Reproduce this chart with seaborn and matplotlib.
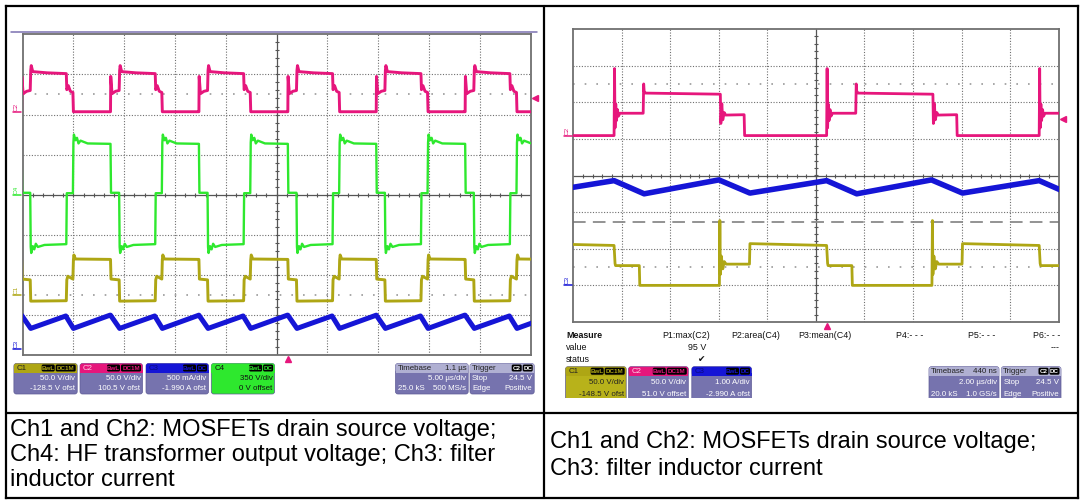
import numpy as np
import pandas as pd
import matplotlib
matplotlib.use("Agg")
import matplotlib.pyplot as plt
import seaborn as sns
from matplotlib.patches import FancyBboxPatch, Rectangle

sns.set_theme(style="white")
plt.rcParams["font.family"] = ["Liberation Sans", "DejaVu Sans"]

# ------------------------------------------------------------------
# DATA  (trace values in screen divisions)
# ------------------------------------------------------------------
# Left capture, 5.00 us/div : start of each switching cycle on screen
left_cycle_starts = [-0.02, 1.73, 3.47, 5.22, 6.96, 8.71]
# one cycle of each channel: offset inside the cycle (div) / level (div)
left_c2_t = [0.00, 0.005, 0.03, 0.10, 0.17, 0.18, 0.19, 0.22, 0.50, 0.88, 0.89, 0.92, 0.96, 1.01, 1.02, 1.74]
left_c2_v = [2.07, 2.95, 2.52, 2.58, 2.60, 3.10, 3.22, 3.07, 3.04, 3.02, 2.62, 2.72, 2.58, 2.55, 2.07, 2.07]
left_c4_t = [0.00, 0.01, 0.17, 0.18, 0.19, 0.22, 0.25, 0.28, 0.32, 0.45, 0.88, 0.89, 1.01, 1.02, 1.03,
             1.06, 1.09, 1.12, 1.16, 1.30, 1.74]
left_c4_v = [1.27, 0.05, 0.05, -1.30, -1.45, -1.28, -1.36, -1.22, -1.30, -1.25, -1.23, 0.04, 0.04, 1.30, 1.50,
             1.36, 1.42, 1.28, 1.35, 1.28, 1.27]
left_c1_t = [0.00, 0.01, 0.17, 0.18, 0.88, 0.89, 0.91, 1.01, 1.02, 1.03, 1.06, 1.74]
left_c1_v = [-1.61, -2.10, -2.12, -2.65, -2.64, -2.12, -2.03, -2.10, -1.62, -1.50, -1.60, -1.61]
left_c3_t = [0.00, 0.18, 0.87, 1.02, 1.74]
left_c3_v = [-3.00, -3.33, -3.02, -3.33, -3.00]

# Right capture, 2.00 us/div
right_cycle_starts = [-3.54, 0.84, 5.22, 9.60]
right_c2_t = [0.00, 0.01, 0.02, 0.035, 0.05, 0.07, 0.09, 0.12, 0.60, 0.61, 0.62, 0.65, 2.19, 2.20,
              2.22, 2.24, 2.27, 2.30, 2.68, 2.69, 4.38]
right_c2_v = [1.09, 2.92, 1.30, 1.95, 1.50, 1.80, 1.62, 1.70, 1.70, 2.50, 2.30, 2.25, 2.22, 1.42,
              1.96, 1.52, 1.72, 1.65, 1.66, 1.09, 1.09]
right_c1_t = [0.00, 0.02, 0.03, 0.52, 0.53, 2.17, 2.18, 2.19, 2.21, 2.24, 2.27, 2.31, 2.79, 2.80, 4.38]
right_c1_v = [-1.91, -2.40, -2.46, -2.46, -3.00, -3.00, -1.23, -2.70, -2.20, -2.55, -2.35, -2.42, -2.42, -1.86, -1.91]
right_c3_t = [0.00, 0.62, 2.16, 2.80, 4.38]
right_c3_v = [-0.14, -0.50, -0.12, -0.48, -0.14]
right_dashed_level = -1.28

# Channel ground markers (div)
left_markers = [("C2", 2.07), ("C4", 0.0), ("C1", -2.5), ("C3", -3.85)]
right_markers = [("C2", 1.09), ("C3", -3.0)]
left_trig_level, right_trig_level = 2.41, 1.55
trig_delay = 0.22

# Info boxes
left_ch_boxes = [
    ("C1", ["BwL", "DC1M"], ["50.0 V/div", "-128.5 V ofst"]),
    ("C2", ["BwL", "DC1M"], ["50.0 V/div", "100.5 V ofst"]),
    ("C3", ["BwL", "DC"], ["500 mA/div", "-1.990 A ofst"]),
    ("C4", ["BwL", "DC"], ["350 V/div", "0 V offset"]),
]
right_ch_boxes = [
    ("C1", ["BwL", "DC1M"], ["50.0 V/div", "-148.5 V ofst"]),
    ("C2", ["BwL", "DC1M"], ["50.0 V/div", "51.0 V offset"]),
    ("C3", ["BwL", "DC"], ["1.00 A/div", "-2.990 A ofst"]),
]
left_timebase = ["1.1 µs", "5.00 µs/div", "25.0 kS", "500 MS/s"]
right_timebase = ["440 ns", "2.00 µs/div", "20.0 kS", "1.0 GS/s"]
trigger_info = ["Stop", "24.5 V", "Edge", "Positive"]
measure_params = ["P1:max(C2)", "P2:area(C4)", "P3:mean(C4)", "P4:- - -", "P5:- - -", "P6:- - -"]
measure_value = "95 V"

caption_left = ["Ch1 and Ch2: MOSFETs drain source voltage;",
                "Ch4: HF transformer output voltage; Ch3: filter",
                "inductor current"]
caption_right = ["Ch1 and Ch2: MOSFETs drain source voltage;",
                 "Ch3: filter inductor current"]

# ------------------------------------------------------------------
PINK, GREEN, OLIVE, BLUE = "#e6167c", "#2ee82e", "#aea614", "#1515d6"
BODY, HEADG = "#7673ae", "#b0b0d2"
W, H = 1080, 500
fig = plt.figure(figsize=(10.8, 5), dpi=100)
fig.patch.set_facecolor("white")


def tile(starts, t, v):
    xs, ys = [], []
    for s in starts:
        xs += [s + ti for ti in t]
        ys += list(v)
        xs.append(np.nan)
        ys.append(np.nan)
    return pd.DataFrame({"t": xs, "v": ys})


def scope(x0, y0, x1, y1):
    ax = fig.add_axes([x0 / W, 1 - y1 / H, (x1 - x0) / W, (y1 - y0) / H])
    ax.set_xlim(0, 10)
    ax.set_ylim(-4, 4)
    ax.set_xticks([])
    ax.set_yticks([])
    ax.set_facecolor("white")
    for s in ax.spines.values():
        s.set_color("#707070")
        s.set_linewidth(1.3)
    for i in range(1, 10):
        if i != 5:
            ax.axvline(i, color="#6f6f6f", lw=0.8, ls=(0, (1, 1.5)), zorder=1)
    for j in range(-3, 4):
        if j != 0:
            ax.axhline(j, color="#6f6f6f", lw=0.8, ls=(0, (1, 1.5)), zorder=1)
    for j in (-2.5, 2.5):
        ax.axhline(j, color="#9a9a9a", lw=1.2, ls=(0, (1, 6)), zorder=1)
    ax.axvline(5, color="#555555", lw=0.9, zorder=1)
    ax.axhline(0, color="#555555", lw=0.9, zorder=1)
    tx = np.arange(0.2, 10, 0.2)
    ty = np.arange(-3.8, 4, 0.2)
    ax.plot(tx, np.zeros_like(tx), ls="none", marker="|", ms=3.5, mew=0.8, color="#555555", zorder=1)
    ax.plot(np.full_like(ty, 5), ty, ls="none", marker="_", ms=3.5, mew=0.8, color="#555555", zorder=1)
    return ax


def trace(ax, starts, t, v, color, lw):
    df = tile(starts, t, v)
    sns.lineplot(data=df, x="t", y="v", ax=ax, color=color, lw=lw, sort=False,
                 estimator=None, legend=False, zorder=3)
    ax.set_xlabel("")
    ax.set_ylabel("")


# left scope
LX0, LY0, LX1, LY1 = 22.6, 34.3, 530.7, 355.3
axL = scope(LX0, LY0, LX1, LY1)
trace(axL, left_cycle_starts, left_c3_t, left_c3_v, BLUE, 3.6)
trace(axL, left_cycle_starts, left_c1_t, left_c1_v, OLIVE, 2.1)
trace(axL, left_cycle_starts, left_c4_t, left_c4_v, GREEN, 1.7)
trace(axL, left_cycle_starts, left_c2_t, left_c2_v, PINK, 2.1)

# right scope
RX0, RY0, RX1, RY1 = 573.3, 29.0, 1058.6, 322.0
axR = scope(RX0, RY0, RX1, RY1)
axR.axhline(right_dashed_level, color="#8a8a8a", lw=1.3, ls=(0, (7, 4)), zorder=2)
trace(axR, right_cycle_starts, right_c3_t, right_c3_v, BLUE, 4.0)
trace(axR, right_cycle_starts, right_c1_t, right_c1_v, OLIVE, 2.0)
trace(axR, right_cycle_starts, right_c2_t, right_c2_v, PINK, 2.0)

# ------------------------------------------------------------------
# overlay in pixel coordinates
ov = fig.add_axes([0, 0, 1, 1])
ov.set_xlim(0, W)
ov.set_ylim(H, 0)
ov.axis("off")
ov.patch.set_alpha(0)


def ypix(level, y0, y1):
    return (y0 + y1) / 2 - level * (y1 - y0) / 8


def xpix(div, x0, x1):
    return x0 + div * (x1 - x0) / 10


# purple top line of left screen
ov.plot([11, 537], [32.3, 32.3], color="#7a70b0", lw=1.1, zorder=2)

SMALL = 5.7
cols = {"C1": OLIVE, "C2": PINK, "C3": BLUE, "C4": GREEN}
for name, lev in left_markers:
    y = ypix(lev, LY0, LY1)
    ov.plot([13, 21], [y, y], color=cols[name], lw=1.1)
    ov.text(16, y - 5, name, color=cols[name], fontsize=4.6, rotation=90, ha="center", va="center")
for name, lev in right_markers:
    y = ypix(lev, RY0, RY1)
    ov.plot([564, 572], [y, y], color=cols[name], lw=1.1)
    ov.text(567, y - 5, name, color=cols[name], fontsize=4.6, rotation=90, ha="center", va="center")

ov.plot([LX1 + 4], [ypix(left_trig_level, LY0, LY1)], marker="<", ms=4, color=PINK, ls="none")
ov.plot([RX1 + 4], [ypix(right_trig_level, RY0, RY1)], marker="<", ms=4, color=PINK, ls="none")
ov.plot([xpix(5 + trig_delay, LX0, LX1)], [LY1 + 3.5], marker="^", ms=4, color=PINK, ls="none")
ov.plot([xpix(5 + trig_delay, RX0, RX1)], [RY1 + 3.5], marker="^", ms=4, color=PINK, ls="none")


def badge(xr, yc, label, tc, w):
    ov.add_patch(FancyBboxPatch((xr - w, yc - 3.5), w, 7.0, boxstyle="round,pad=0,rounding_size=1.5",
                                fc="black", ec="none", zorder=6))
    ov.text(xr - w / 2, yc + 0.2, label, color=tc, fontsize=4.5, ha="center", va="center", zorder=7,
            fontweight="bold")


def box(x0, x1, y0, y1, head_fc, body_fc, square_bottom=False):
    w, h, hh = x1 - x0, y1 - y0, 9
    style = "round,pad=0,rounding_size=2.5"
    ov.add_patch(FancyBboxPatch((x0, y0), w, h, boxstyle=style, fc=body_fc, ec="#5d5a95", lw=0.5, zorder=4))
    if square_bottom:
        ov.add_patch(Rectangle((x0, y1 - 4), w, 4, fc=body_fc, ec="none", zorder=4))
    ov.add_patch(FancyBboxPatch((x0, y0), w, hh, boxstyle=style, fc=head_fc, ec="none", zorder=5))
    ov.add_patch(Rectangle((x0, y0 + hh - 3), w, 3, fc=head_fc, ec="none", zorder=5))
    return y0 + hh / 2, y0 + hh + (h - hh) * 0.28, y0 + hh + (h - hh) * 0.76


def channel_box(x0, x1, y0, y1, name, badges, lines, head_fc, body_fc, title_c, text_c, badge_c,
                square_bottom=False):
    yh, yl1, yl2 = box(x0, x1, y0, y1, head_fc, body_fc, square_bottom)
    ov.text(x0 + 3, yh + 0.3, name, color=title_c, fontsize=SMALL, ha="left", va="center", zorder=7)
    widths = [13, 20] if len(badges[1]) > 2 else [13, 10]
    ov_r = x1 - 1.5
    badge(ov_r, yh, badges[1], badge_c, widths[1])
    badge(ov_r - widths[1] - 1, yh, badges[0], badge_c, widths[0])
    ov.text(x1 - 2, yl1, lines[0], color=text_c, fontsize=SMALL, ha="right", va="center", zorder=7)
    ov.text(x1 - 2, yl2, lines[1], color=text_c, fontsize=SMALL, ha="right", va="center", zorder=7)


def timebase_box(x0, x1, y0, y1, vals, square_bottom=False):
    yh, yl1, yl2 = box(x0, x1, y0, y1, HEADG, BODY, square_bottom)
    ov.text(x0 + 2, yh + 0.3, "Timebase", color="#222", fontsize=SMALL, ha="left", va="center", zorder=7)
    ov.text(x1 - 2, yh + 0.3, vals[0], color="#222", fontsize=SMALL, ha="right", va="center", zorder=7)
    ov.text(x1 - 2, yl1, vals[1], color="white", fontsize=SMALL, ha="right", va="center", zorder=7)
    ov.text(x0 + 2, yl2, vals[2], color="white", fontsize=SMALL, ha="left", va="center", zorder=7)
    ov.text(x1 - 2, yl2, vals[3], color="white", fontsize=SMALL, ha="right", va="center", zorder=7)


def trigger_box(x0, x1, y0, y1, vals, square_bottom=False):
    yh, yl1, yl2 = box(x0, x1, y0, y1, HEADG, BODY, square_bottom)
    ov.text(x0 + 2, yh + 0.3, "Trigger", color="#222", fontsize=SMALL, ha="left", va="center", zorder=7)
    badge(x1 - 1.5, yh, "DC", "white", 10)
    badge(x1 - 12.5, yh, "C2", "white", 10)
    ov.text(x0 + 2, yl1, vals[0], color="white", fontsize=SMALL, ha="left", va="center", zorder=7)
    ov.text(x1 - 2, yl1, vals[1], color="white", fontsize=SMALL, ha="right", va="center", zorder=7)
    ov.text(x0 + 2, yl2, vals[2], color="white", fontsize=SMALL, ha="left", va="center", zorder=7)
    ov.text(x1 - 2, yl2, vals[3], color="white", fontsize=SMALL, ha="right", va="center", zorder=7)


# left info boxes
lx = [(13.9, 77.2), (80.0, 142.5), (146.0, 208.5), (211.3, 274.6)]
lstyle = [(OLIVE, BODY, "#222", "white"), (PINK, BODY, "#ffd0e6", "white"),
          (BLUE, BODY, "#0a0a80", "white"), (GREEN, GREEN, "#111", "#111")]
for (x0, x1), (nm, bd, ln), (hc, bc, tc, txc) in zip(lx, left_ch_boxes, lstyle):
    channel_box(x0, x1, 363.5, 394.0, nm, bd, ln, hc, bc, tc, txc, hc)
timebase_box(395.5, 468.2, 363.5, 394.0, left_timebase)
trigger_box(470.0, 534.2, 363.5, 394.0, trigger_info)

# right info boxes
rx = [(565.5, 626.2), (628.6, 688.3), (691.8, 751.5)]
rstyle = [(OLIVE, "#b8b21a", "#222", "#222"), (PINK, BODY, "#ffd0e6", "white"),
          (BLUE, BODY, "#0a0a80", "white")]
for (x0, x1), (nm, bd, ln), (hc, bc, tc, txc) in zip(rx, right_ch_boxes, rstyle):
    channel_box(x0, x1, 366.7, 401.0, nm, bd, ln, hc, bc, tc, txc, hc, square_bottom=True)
timebase_box(929.0, 999.0, 366.7, 401.0, right_timebase, square_bottom=True)
trigger_box(1001.3, 1061.0, 366.7, 401.0, trigger_info, square_bottom=True)
ov.add_patch(Rectangle((546, 398.3), 530, 13, fc="white", ec="none", zorder=8))

# measure table
MF = 6.4
ov.text(566, 335, "Measure", fontsize=MF, fontweight="bold", ha="left", va="center", color="#111")
ov.text(566, 347.3, "value", fontsize=MF, ha="left", va="center", color="#111")
ov.text(566, 359.3, "status", fontsize=MF, ha="left", va="center", color="#111")
px_meas = [(686, "center"), (756, "center"), (825, "center"), (896.5, "left"), (967.5, "left"), (1060, "right")]
for (x, ha), p in zip(px_meas, measure_params):
    ov.text(x, 335, p, fontsize=MF, ha=ha, va="center", color="#111")
ov.text(706, 347.3, measure_value, fontsize=MF, ha="right", va="center", color="#111")
ov.text(702, 359.3, "\u2714", fontsize=MF, ha="center", va="center", color="#111", family="DejaVu Sans")
ov.text(1060, 347.3, "---", fontsize=MF, ha="right", va="center", color="#111")

# captions
CF = 17
for i, line in enumerate(caption_left):
    ov.text(10, 430 + 25 * i, line, fontsize=CF, ha="left", va="center", color="black")
for i, line in enumerate(caption_right):
    ov.text(550, 442 + 27 * i, line, fontsize=CF, ha="left", va="center", color="black")

# table borders
BL = 1.6
ov.plot([6, 1077.5], [6, 6], color="black", lw=BL, solid_capstyle="projecting", zorder=9)
ov.plot([6, 1077.5], [497.5, 497.5], color="black", lw=BL, solid_capstyle="projecting", zorder=9)
ov.plot([6, 6], [6, 497.5], color="black", lw=BL, solid_capstyle="projecting", zorder=9)
ov.plot([1077.5, 1077.5], [6, 497.5], color="black", lw=BL, solid_capstyle="projecting", zorder=9)
ov.plot([543.7, 543.7], [6, 497.5], color="black", lw=BL, zorder=9)
ov.plot([6, 1077.5], [412.7, 412.7], color="black", lw=BL, zorder=9)

fig.savefig("out.png", dpi=100, facecolor="white")
